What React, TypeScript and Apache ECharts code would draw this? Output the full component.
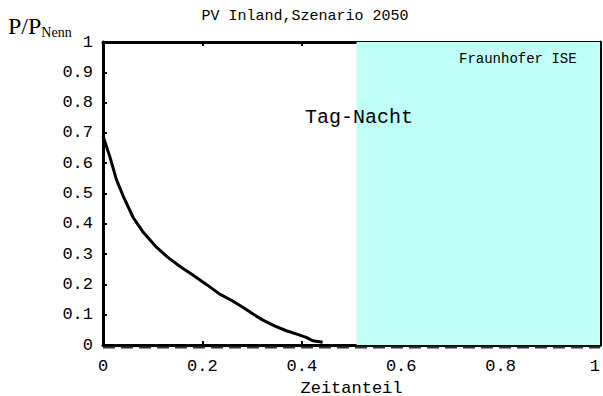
import React, { useEffect, useRef } from "react";
import * as echarts from "echarts";

const titleText = "PV Inland,Szenario 2050";
const xAxisName = "Zeitanteil";
const dayNightLabel = "Tag-Nacht";
const sourceLabel = "Fraunhofer ISE";
const nightRange = [0.51, 1];
const curveX = [0, 0.004, 0.014, 0.027, 0.041, 0.061, 0.081, 0.108, 0.13, 0.155, 0.18, 0.208, 0.235, 0.26, 0.282, 0.302, 0.322, 0.345, 0.369, 0.39, 0.409, 0.422, 0.442];
const curveY = [0.69, 0.67, 0.62, 0.546, 0.49, 0.42, 0.372, 0.322, 0.29, 0.259, 0.232, 0.2, 0.168, 0.146, 0.124, 0.102, 0.082, 0.063, 0.047, 0.036, 0.025, 0.014, 0.009];

const MONO = "Liberation Mono";
const SERIF = "Liberation Serif";

export default function App() {
  const ref = useRef<HTMLDivElement>(null);
  useEffect(() => {
    document.body.style.margin = "0";
    if (!ref.current) return;
    const chart = echarts.init(ref.current, null, { renderer: "svg" });
    const fmt = (v: number) => String(+v.toFixed(1));
    const tick = { show: true, inside: true, length: 4, lineStyle: { color: "#000", width: 2 } };
    chart.setOption({
      animation: false,
      backgroundColor: "#fff",
      grid: { left: 103, right: 3, top: 42, bottom: 51, containLabel: false, outerBoundsMode: "none" },
      xAxis: [
        {
          type: "value", min: 0, max: 1, interval: 0.2, position: "bottom",
          axisLine: { show: true, onZero: false, lineStyle: { color: "#000", width: 3 } },
          axisTick: tick,
          axisLabel: { color: "#000", fontFamily: MONO, fontSize: 17, margin: 13, formatter: fmt, alignMaxLabel: "right" },
          splitLine: { show: false },
          name: xAxisName, nameLocation: "middle", nameGap: 27,
          nameTextStyle: { color: "#000", fontFamily: MONO, fontSize: 17, lineHeight: 17 },
        },
        {
          type: "value", min: 0, max: 1, interval: 0.2, position: "top",
          axisLine: { show: true, onZero: false, lineStyle: { color: "#000", width: 3 } },
          axisTick: tick,
          axisLabel: { show: false }, splitLine: { show: false },
        },
      ],
      yAxis: [
        {
          type: "value", min: 0, max: 1, interval: 0.1, position: "left",
          axisLine: { show: true, onZero: false, lineStyle: { color: "#000", width: 3 } },
          axisTick: tick,
          axisLabel: { color: "#000", fontFamily: MONO, fontSize: 17, margin: 10, formatter: fmt },
          splitLine: { show: false },
        },
        {
          type: "value", min: 0, max: 1, interval: 0.1, position: "right",
          axisLine: { show: true, onZero: false, lineStyle: { color: "#000", width: 3 } },
          axisTick: tick,
          axisLabel: { show: false }, splitLine: { show: false },
        },
      ],
      series: [
        {
          type: "line",
          data: curveX.map((x, i) => [x, curveY[i]]),
          showSymbol: false,
          lineStyle: { color: "#000", width: 3 },
          z: 5,
          markArea: {
            silent: true,
            itemStyle: { color: "#bffff7" },
            data: [[{ xAxis: nightRange[0] }, { xAxis: nightRange[1] }]],
          },
        },
      ],
      graphic: [
        { type: "text", x: 305, y: 9, style: { text: titleText, fontFamily: MONO, fontSize: 15, fill: "#000", align: "center" } },
        {
          type: "text", x: 8, y: 13,
          style: {
            text: "{a|P/P}{b|Nenn}",
            rich: {
              a: { fontFamily: SERIF, fontSize: 24, color: "#000" },
              b: { fontFamily: SERIF, fontSize: 14, color: "#000", padding: [12, 0, 0, 0] },
            },
          },
        },
        { type: "text", x: 305, y: 107, z: 10, style: { text: dayNightLabel, fontFamily: MONO, fontSize: 20, fill: "#000" } },
        { type: "text", x: 459, y: 52, z: 10, style: { text: sourceLabel, fontFamily: MONO, fontSize: 14, fill: "#000" } },
        { type: "line", z: 10, shape: { x1: 103, y1: 347.5, x2: 600, y2: 347.5 }, style: { stroke: "#333", lineWidth: 2, lineDash: [12, 6] } },
      ],
    });
    return () => chart.dispose();
  }, []);
  return <div ref={ref} style={{ width: 603, height: 396 }} />;
}
